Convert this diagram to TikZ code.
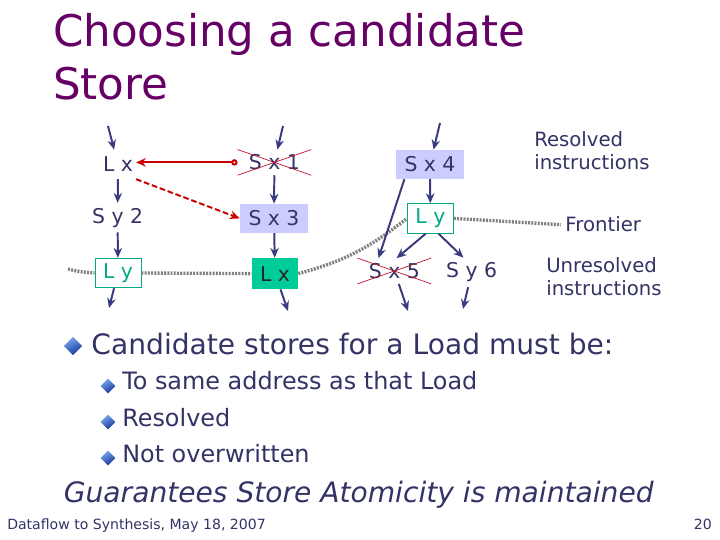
\documentclass[tikz,border=0pt]{standalone}
\usepackage{fontspec}
\setmainfont{DejaVu Sans}
\usetikzlibrary{arrows.meta,positioning,shapes.geometric,shapes.misc}
\definecolor{slidepurple}{RGB}{102,0,102}
\definecolor{slidenavy}{RGB}{51,51,102}
\definecolor{slidearrow}{RGB}{58,58,128}
\definecolor{slidelav}{RGB}{204,204,255}
\definecolor{slidegreen}{RGB}{0,204,153}
\definecolor{slideteal}{RGB}{0,170,130}
\definecolor{slidered}{RGB}{204,0,0}
\definecolor{slidecross}{RGB}{190,20,50}
\definecolor{slidegray}{RGB}{128,128,128}
\definecolor{bulletlight}{RGB}{120,170,240}
\definecolor{bulletdark}{RGB}{20,50,150}

\begin{document}
\begin{tikzpicture}[x=1cm,y=1cm,
    instr/.style={text=slidenavy, font=\fontsize{14.5pt}{17pt}\selectfont, minimum height=0.725cm, inner sep=2pt},
    resolvedbox/.style={instr, fill=slidelav, minimum width=1.7cm},
    frontbox/.style={instr, draw=slideteal, text=slideteal, line width=0.6pt, minimum width=1.15cm, minimum height=0.74cm},
    chosenbox/.style={instr, fill=slidegreen, text=black!85, minimum width=1.15cm, minimum height=0.775cm},
    killed/.style={instr, cross out, draw=slidecross, line width=0.5pt, minimum width=1.825cm, minimum height=0.625cm, inner sep=0pt},
    dep/.style={-{Stealth[length=7pt,width=6pt]}, line width=1.4pt, slidearrow},
    pick/.style={-{Stealth[length=7pt,width=6pt]}, line width=1.4pt, slidered},
    frontier/.style={slidegray, line width=2.4pt, dash pattern=on 1.4pt off 0.9pt},
    note/.style={text=slidenavy, inner sep=0pt, align=left, font=\fontsize{14pt}{16.3pt}\selectfont},
    bigbullet/.style={diamond, inner sep=0pt, minimum size=0.46cm, top color=bulletlight, bottom color=bulletdark, shading angle=30},
    smallbullet/.style={bigbullet, minimum size=0.37cm},
    bodytext/.style={text=slidenavy, inner sep=0pt, anchor=base west, font=\fontsize{20pt}{24pt}\selectfont},
    subtext/.style={bodytext, font=\fontsize{17pt}{20pt}\selectfont}]
    \fill[white] (0,0) rectangle (18,13.5);
    \useasboundingbox (0,0) rectangle (18,13.5);

    \node[text=slidepurple, inner sep=0pt, anchor=base west, font=\fontsize{31pt}{37pt}\selectfont] (title1) at (1.32,12.325) {Choosing a candidate};
    \node[text=slidepurple, inner sep=0pt, anchor=base west, font=\fontsize{31pt}{37pt}\selectfont] (title2) at (1.32,11.0) {Store};

    \node[instr] (lx) at (2.95,9.39) {L x};
    \node[instr] (sy2) at (2.94,8.06) {S y 2};
    \node[frontbox] (ly1) at (2.95,6.675) {L y};
    \node[killed] (sx1) at (6.86,9.44) {S x 1};
    \node[resolvedbox] (sx3) at (6.85,8.04) {S x 3};
    \node[chosenbox] (lx2) at (6.875,6.66) {L x};
    \node[resolvedbox] (sx4) at (10.75,9.39) {S x 4};
    \node[frontbox] (ly2) at (10.76,8.04) {L y};
    \node[killed] (sx5) at (9.86,6.725) {S x 5};
    \node[instr] (sy6) at (11.79,6.69) {S y 6};

    \node[note, anchor=north west] (resolved) at (13.35,10.225) {Resolved\\instructions};
    \node[note, anchor=base west] (frontlabel) at (14.13,7.7) {Frontier};
    \node[note, anchor=north west] (unresolved) at (13.65,7.075) {Unresolved\\instructions};

    \coordinate (inlx) at (2.7,10.35);
    \coordinate (insx1) at (7.075,10.35);
    \coordinate (insx4) at (11.0,10.425);
    \coordinate (outly1) at (2.725,5.8);
    \coordinate (outlx2) at (7.2,5.725);
    \coordinate (outsx5) at (10.2,5.725);
    \coordinate (outsy6) at (11.575,5.775);
    \coordinate (frontstart) at (1.7,6.775);

    \draw[frontier] (frontstart) to[out=-15,in=175] (ly1.west);
    \draw[frontier] (ly1.east) -- (lx2.west);
    \draw[frontier] (lx2.east) to[out=15,in=218] (ly2.west);
    \draw[frontier] (ly2.east) -- ([xshift=-3pt]frontlabel.west);

    \draw[dep] (inlx) -- (lx);
    \draw[dep] (lx) -- (sy2);
    \draw[dep] (sy2) -- (ly1);
    \draw[dep] (ly1) -- (outly1);
    \draw[dep] (insx1) -- (sx1);
    \draw[dep] (sx1) -- (sx3);
    \draw[dep] (sx3) -- (lx2);
    \draw[dep] (lx2) -- (outlx2);
    \draw[dep] (insx4) -- (sx4);
    \draw[dep] (sx4) -- (ly2);
    \draw[dep] (sx4.210) -- (sx5.141);
    \draw[dep] (ly2.253) -- (sx5.80);
    \draw[dep] (ly2.-62) -- (sy6.119);
    \draw[dep] (sx5) -- (outsx5);
    \draw[dep] (sy6) -- (outsy6);

    \draw[pick, {Circle[open,length=4.5pt]}-{Stealth[length=7pt,width=6pt]}] (sx1.west) -- (lx.east |- sx1.west);
    \draw[pick, dash pattern=on 4pt off 2pt] (lx.south east) -- (sx3.west);

    \node[bigbullet] (b1) at (1.825,4.85) {};
    \node[bodytext] (cand) at (2.28,4.65) {Candidate stores for a Load must be:};
    \node[smallbullet] (b2) at (2.7,3.85) {};
    \node[subtext] (same) at (3.05,3.75) {To same address as that Load};
    \node[smallbullet] (b3) at (2.7,2.95) {};
    \node[subtext] (res) at (3.05,2.825) {Resolved};
    \node[smallbullet] (b4) at (2.7,2.05) {};
    \node[subtext] (notover) at (3.05,1.925) {Not overwritten};
    \node[bodytext, font=\fontsize{20pt}{24pt}\selectfont\itshape] (guar) at (1.59,0.95) {Guarantees Store Atomicity is maintained};

    \node[text=slidenavy, inner sep=0pt, anchor=base west, font=\fontsize{10pt}{12pt}\selectfont] (foot) at (0.175,0.25) {Dataflow to Synthesis, May 18, 2007};
    \node[text=slidenavy, inner sep=0pt, anchor=base east, font=\fontsize{10pt}{12pt}\selectfont] (page) at (17.8,0.25) {20};
  \end{tikzpicture}
\end{document}
